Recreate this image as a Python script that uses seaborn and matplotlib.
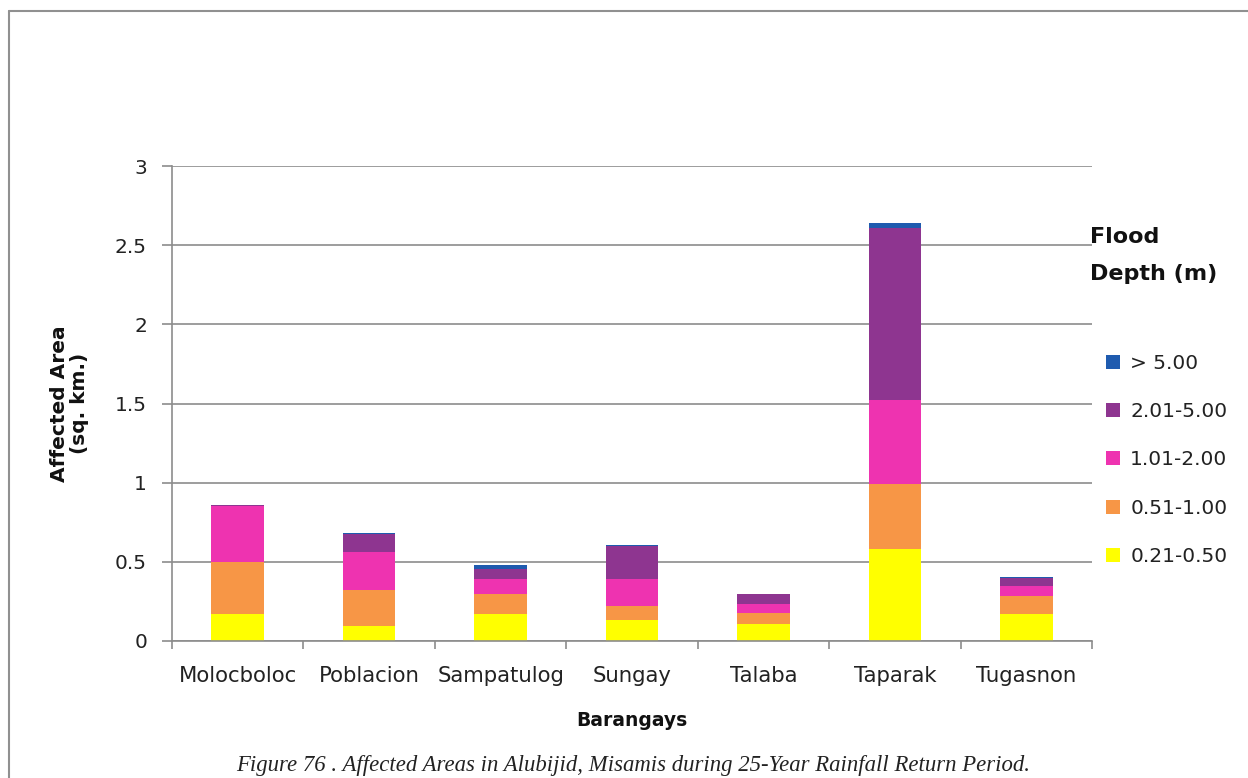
import numpy as np
import pandas as pd
import matplotlib
matplotlib.use('Agg')
import matplotlib.pyplot as plt
from matplotlib.patches import Patch
from matplotlib.lines import Line2D
from matplotlib.ticker import FixedLocator
import seaborn as sns

# affected area (sq. km) per barangay, split by flood depth class
barangays = ['Molocboloc', 'Poblacion', 'Sampatulog', 'Sungay', 'Talaba', 'Taparak', 'Tugasnon']
depth_021_050 = [0.17, 0.095, 0.17, 0.13, 0.105, 0.58, 0.17]
depth_051_100 = [0.33, 0.23, 0.13, 0.09, 0.075, 0.41, 0.115]
depth_101_200 = [0.35, 0.24, 0.09, 0.17, 0.055, 0.535, 0.065]
depth_201_500 = [0.01, 0.11, 0.065, 0.21, 0.063, 1.085, 0.045]
depth_over_500 = [0.0, 0.007, 0.022, 0.009, 0.0, 0.027, 0.008]
depth_labels = ['0.21-0.50', '0.51-1.00', '1.01-2.00', '2.01-5.00', '> 5.00']
depth_colors = ['#ffff00', '#f79646', '#ee33b0', '#8e3590', '#1f5baf']
y_ticks = [0, 0.5, 1, 1.5, 2, 2.5, 3]
y_tick_labels = ['0', '0.5', '1', '1.5', '2', '2.5', '3']

grey = '#8c8c8c'


def main():
    sns.set_theme(style='white')
    plt.rcParams['font.family'] = ['DejaVu Sans']

    fig = plt.figure(figsize=(12.48, 7.78), dpi=100)
    ax = fig.add_axes([172 / 1248, 1 - 641 / 778, 920 / 1248, 475 / 778])
    plot_stacked(ax)
    style_axes(ax)
    add_legend(fig)

    # frame round the figure
    fig.add_artist(Line2D([9 / 1248, 9 / 1248], [0, 1 - 11 / 778], color='#909090', lw=1.5))
    fig.add_artist(Line2D([9 / 1248, 1], [1 - 11 / 778, 1 - 11 / 778], color='#909090', lw=1.5))

    fig.text(0.507, 1 - 765 / 778, 'Figure 76 . Affected Areas in Alubijid, Misamis during 25-Year Rainfall Return Period.',
             ha='center', va='center', fontsize=16.4, style='italic', family='Liberation Serif', color='#222222')

    fig.savefig('out.png', dpi=100)


def plot_stacked(ax):
    layers = pd.DataFrame({
        depth_labels[0]: depth_021_050,
        depth_labels[1]: depth_051_100,
        depth_labels[2]: depth_101_200,
        depth_labels[3]: depth_201_500,
        depth_labels[4]: depth_over_500,
    }, index=barangays)
    cum = layers.cumsum(axis=1)
    # draw the totals first, then each lower stack on top of it
    for label, color in reversed(list(zip(depth_labels, depth_colors))):
        sns.barplot(x=barangays, y=cum[label].values, color=color, saturation=1,
                    width=0.4, errorbar=None, linewidth=0, ax=ax, zorder=2)


def style_axes(ax):
    ax.set_xlim(-0.5, 6.5)
    ax.set_ylim(0, 3)
    ax.set_yticks(y_ticks, y_tick_labels)
    ax.set_xticks(range(len(barangays)), barangays)
    ax.xaxis.set_minor_locator(FixedLocator(np.arange(-0.5, 7, 1)))

    ax.yaxis.grid(True, color=grey, lw=1.2, zorder=0)
    ax.set_axisbelow(True)
    for side in ['top', 'right']:
        ax.spines[side].set_visible(False)
    for side in ['left', 'bottom']:
        ax.spines[side].set_color(grey)
        ax.spines[side].set_linewidth(1.2)

    ax.tick_params(axis='y', left=True, length=7, width=1.2, color=grey, pad=11,
                   labelsize=14.5, labelcolor='#222222')
    ax.tick_params(axis='x', which='major', bottom=False, length=0, pad=18,
                   labelsize=15.3, labelcolor='#222222')
    ax.tick_params(axis='x', which='minor', bottom=True, length=6, width=1.2, color=grey)

    ax.set_ylabel('Affected Area\n(sq. km.)', fontsize=14.5, fontweight='bold', labelpad=19,
                  linespacing=1.05, color='#111111')
    ax.set_xlabel('Barangays', fontsize=13.5, fontweight='bold', labelpad=18, color='#111111')


def add_legend(fig):
    fig.text(1090 / 1248, 1 - 237 / 778, 'Flood', fontsize=16, fontweight='bold',
             va='center', ha='left', color='#111111')
    fig.text(1090 / 1248, 1 - 274 / 778, 'Depth (m)', fontsize=16, fontweight='bold',
             va='center', ha='left', color='#111111')
    handles = [Patch(facecolor=c, edgecolor='none') for c in depth_colors]
    fig.legend(handles[::-1], depth_labels[::-1], loc='upper left',
               bbox_to_anchor=(1098 / 1248, 1 - 346 / 778), frameon=False,
               fontsize=14.5, handlelength=0.7, handleheight=0.7, handletextpad=0.5,
               labelspacing=1.45, labelcolor='#222222', borderaxespad=0)


main()
